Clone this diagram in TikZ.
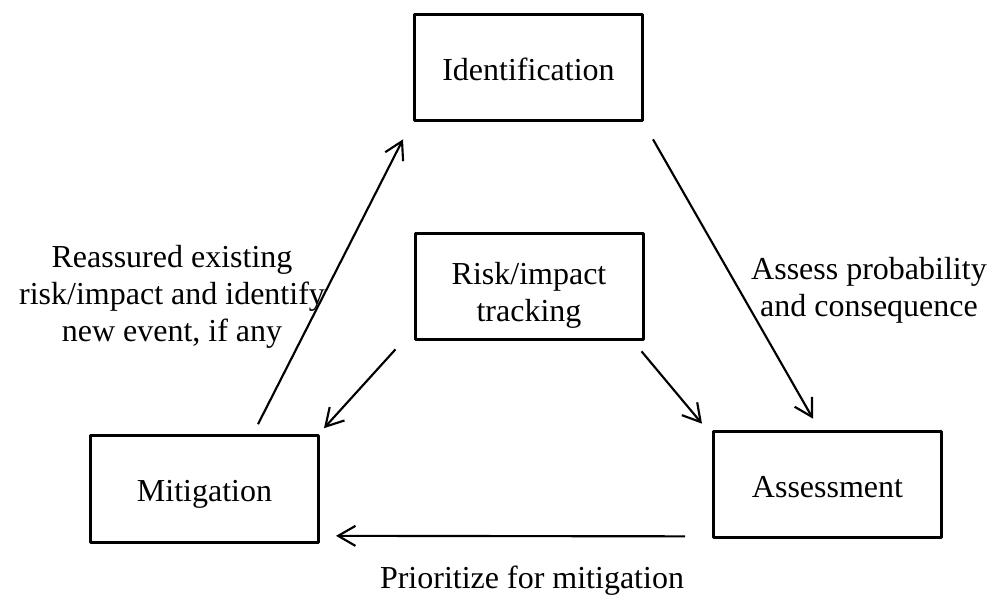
\documentclass[tikz,border=0pt]{standalone}
\usepackage{fontspec}
\setmainfont{Liberation Serif}
\usetikzlibrary{arrows.meta}

\tikzset{
  stage/.style={draw, line width=2.25pt, line join=round, inner sep=0pt,
    minimum width=171pt, minimum height=80pt,
    font=\fontsize{24}{27.6}\selectfont},
  oneline/.style={stage, text height=19pt, text depth=0.25pt},
  note/.style={inner sep=0pt, align=center, font=\fontsize{24}{27.6}\selectfont},
  flow/.style={line width=1.6pt, -{Straight Barb[length=13pt,width=15pt,line width=1.6pt]}}
}

\begin{document}
\begin{tikzpicture}[x=0.75pt, y=-0.75pt]
  \useasboundingbox (0,0) rectangle (992,601);

  % the four stages of the cycle
  \node[oneline] (id)   at (528.5, 67.5) {Identification};
  \node[stage]   (risk) at (529, 286.5)
    {\raisebox{-7pt}[\height][\depth]{\begin{tabular}{@{}c@{}}Risk/impact\\tracking\end{tabular}}};
  \node[oneline] (as)   at (827.5, 484.5) {Assessment};
  \node[oneline] (mit)  at (204.5, 489)   {Mitigation};

  % connectors between stages
  \draw[flow] ([shift={(53.5,-10)}]mit.north) -- ([shift={(-10,17)}]id.south west);
  \draw[flow] ([shift={(9,17)}]id.south east) -- ([shift={(-14.5,-11)}]as.north);
  \draw[flow] ([shift={(-3,10)}]risk.south east) -- ([shift={(-10,-6)}]as.north west);
  \draw[flow] ([shift={(-18,8)}]risk.south west) -- ([shift={(4,-6)}]mit.north east);
  \draw[flow] ([shift={(-27,-3)}]as.south west) -- ([shift={(16,-8)}]mit.south east);

  % connector labels
  \node[note] (lreassure) at (172, 297) {Reassured existing\\risk/impact and identify\\new event, if any};
  \node[note] (lassess)   at (869, 290) {Assess probability\\and consequence};
  \node[note, anchor=base] (lprior) at (532, 588) {Prioritize for mitigation};
\end{tikzpicture}
\end{document}
